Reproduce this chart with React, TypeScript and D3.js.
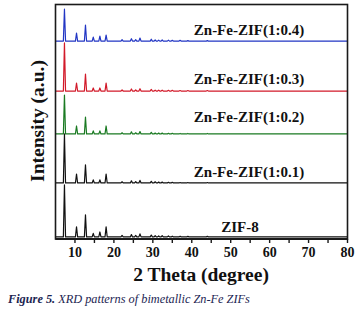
import React from "react";
import * as d3 from "d3";

const W = 364;
const H = 313;

// 2θ positions of the diffraction peaks (degree)
const peakPositions = [7.3, 10.4, 12.7, 14.7, 16.4, 18.0, 22.1, 24.5, 25.6, 26.7, 29.6, 30.6, 31.5, 32.4, 34.0, 35.0, 37.0, 39.0, 44.0];

// peak heights (a.u.) for each sample
const zif8 = [22.2, 4.3, 9.4, 1.5, 2.1, 4.3, 0.6, 1.0, 0.6, 1.3, 0.8, 0.5, 0.4, 0.5, 0.4, 0.3, 0.3, 0.2, 0.2];
const znfe01 = [20.9, 3.8, 7.7, 1.3, 1.3, 3.8, 0.5, 0.9, 0.6, 1.1, 0.7, 0.5, 0.4, 0.4, 0.3, 0.3, 0.2, 0.2, 0.2];
const znfe02 = [16.6, 3.4, 7.2, 1.3, 1.3, 3.4, 0.5, 0.9, 0.5, 1.0, 0.7, 0.4, 0.4, 0.4, 0.3, 0.3, 0.2, 0.2, 0.2];
const znfe03 = [20.5, 3.4, 7.2, 1.3, 1.3, 3.4, 0.5, 0.9, 0.5, 1.0, 0.7, 0.4, 0.4, 0.4, 0.3, 0.3, 0.2, 0.2, 0.2];
const znfe04 = [13.6, 3.4, 6.8, 1.7, 2.1, 2.6, 0.6, 1.0, 0.6, 1.3, 0.8, 0.5, 0.4, 0.5, 0.4, 0.3, 0.3, 0.2, 0.2];

// stacking offsets (a.u.)
const seriesNames = ["ZIF-8", "Zn-Fe-ZIF(1:0.1)", "Zn-Fe-ZIF(1:0.2)", "Zn-Fe-ZIF(1:0.3)", "Zn-Fe-ZIF(1:0.4)"];
const seriesHeights = [zif8, znfe01, znfe02, znfe03, znfe04];
const seriesOffsets = [0.9, 23.9, 44.8, 63.1, 84.4];
const seriesColors = ["#111111", "#111111", "#1a7a22", "#d21a2a", "#2236c4"];
const labelX = [52.4, 54.7, 54.7, 54.7, 54.7];
const labelY = [3.0, 26.4, 49.9, 66.1, 87.0];

const xTicks = [10, 20, 30, 40, 50, 60, 70, 80];
const xMinorTicks = [10, 15, 20, 25, 30, 35, 40, 45, 50, 55, 60, 65, 70, 75, 80];

const left = 55.5, right = 347.5, top = 4.5, bottom = 239;

export default function App() {
  const x = d3.scaleLinear().domain([5, 80]).range([left, right]);
  const y = d3.scaleLinear().domain([0, 100]).range([bottom, top]);
  const halfWidth = 0.28;

  const line = d3.line<[number, number]>().x((d) => x(d[0])).y((d) => y(d[1]));

  const paths = seriesHeights.map((hs, si) => {
    const base = seriesOffsets[si];
    const pts: [number, number][] = [[5, base]];
    peakPositions.forEach((p, i) => {
      pts.push([p - halfWidth, base]);
      pts.push([p, base + hs[i]]);
      pts.push([p + halfWidth, base]);
    });
    pts.push([80, base]);
    return line(pts) || "";
  });

  const serif = "'Liberation Serif', 'Times New Roman', serif";

  return (
    <svg width={W} height={H} style={{ position: "absolute", left: 0, top: 0, background: "#fff" }}>
      <rect x={0} y={0} width={W} height={H} fill="#ffffff" />
      {paths.map((d, i) => (
        <path key={i} d={d} fill="none" stroke={seriesColors[i]} strokeWidth={1.2} strokeLinejoin="round" />
      ))}
      {/* frame */}
      <rect x={left} y={top} width={right - left} height={bottom - top} fill="none" stroke="#1a1a1a" strokeWidth={1.6} />
      <line x1={left} x2={right} y1={bottom} y2={bottom} stroke="#1a1a1a" strokeWidth={2.2} />
      {xMinorTicks.map((t) => (
        <line key={t} x1={x(t)} x2={x(t)} y1={bottom} y2={bottom + 4} stroke="#1a1a1a" strokeWidth={1.4} />
      ))}
      {xTicks.map((t) => (
        <text key={t} x={x(t)} y={257} textAnchor="middle" fontFamily={serif} fontWeight="bold" fontSize={14} fill="#111">
          {t}
        </text>
      ))}
      {seriesNames.map((n, i) => (
        <text key={n} x={x(labelX[i])} y={y(labelY[i])} textAnchor="middle" fontFamily={serif} fontWeight="bold" fontSize={15} fill="#111">
          {n}
        </text>
      ))}
      <text x={201} y={281} textAnchor="middle" fontFamily={serif} fontWeight="bold" fontSize={19.5} fill="#111">
        2 Theta (degree)
      </text>
      <text transform="translate(44,121) rotate(-90)" textAnchor="middle" fontFamily={serif} fontWeight="bold" fontSize={19.5} fill="#111">
        Intensity (a.u.)
      </text>
      <text x={8} y={303} fontFamily={serif} fontStyle="italic" fontSize={12.3} fill="#1c2552">
        <tspan fontWeight="bold">Figure 5.</tspan> XRD patterns of bimetallic Zn-Fe ZIFs
      </text>
    </svg>
  );
}
